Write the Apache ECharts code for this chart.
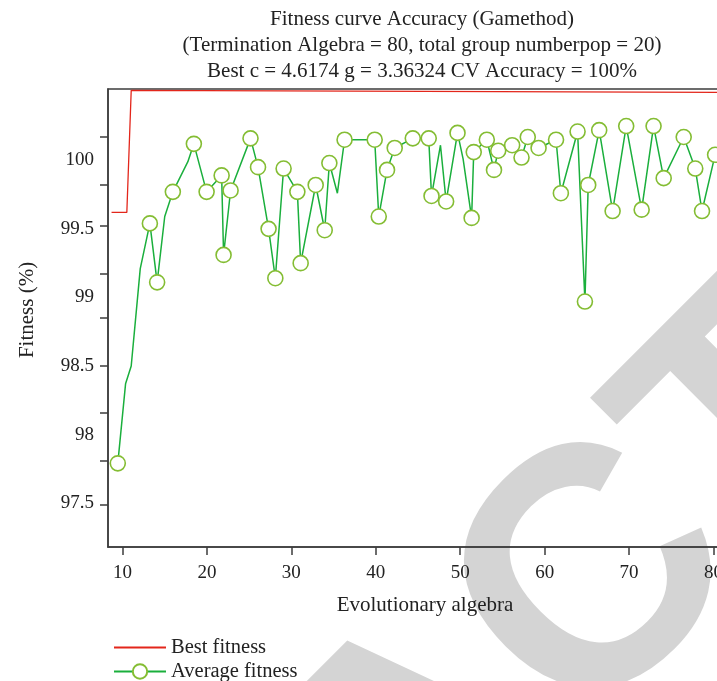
<!DOCTYPE html>
<html>
<head>
<meta charset="utf-8">
<script src="https://cdn.jsdelivr.net/npm/echarts@6/dist/echarts.min.js"></script>
<style>html,body{margin:0;padding:0;background:#fff;}#c{width:717px;height:681px;}</style>
</head>
<body>
<div id="c"></div>
<script>
// ---- data ----
const titleLines = [
  'Fitness curve Accuracy (Gamethod)',
  '(Termination Algebra = 80, total group numberpop = 20)',
  'Best c = 4.6174 g = 3.36324 CV Accuracy = 100%'
];
const xTicks = [10, 20, 30, 40, 50, 60, 70, 80];
const yTicks = [97.5, 98, 98.5, 99, 99.5, 100];
// tick marks on the y axis as drawn in the reference (they do not sit at the labels)
const yTickMarks = [97.49, 97.81, 98.16, 98.5, 98.85, 99.17, 99.52, 99.82, 100.17];
const seriesNames = ['Best fitness', 'Average fitness'];
const watermark = 'RETRACTED';

const bestX = [8.70, 10.51, 11.03, 81.4];
const bestY = [99.62, 99.62, 100.51, 100.495];

const avgX = [9.44,10.36,11.03,12.1,13.24,14.1,15.0,15.96,17.74,18.45,19.96,21.74,21.97,22.8,25.16,26.05,27.3,28.1,29.08,30.71,31.1,32.88,33.95,34.5,35.45,36.3,39.87,40.35,41.33,42.24,44.38,46.27,46.6,47.66,48.33,49.68,50.34,51.35,51.6,53.15,54.0,54.5,56.15,57.26,58.0,59.28,61.35,61.92,63.9,64.77,65.16,66.46,68.05,69.66,71.49,72.9,74.1,76.47,77.84,78.64,80.19];
const avgY = [97.79,98.37,98.5,99.21,99.54,99.11,99.59,99.77,99.99,100.12,99.77,99.89,99.31,99.78,100.16,99.95,99.5,99.14,99.94,99.77,99.25,99.82,99.49,99.98,99.76,100.15,100.15,99.59,99.93,100.09,100.16,100.16,99.74,100.11,99.7,100.2,100.01,99.58,100.06,100.15,99.93,100.07,100.11,100.02,100.17,100.09,100.15,99.76,100.21,98.97,99.82,100.22,99.63,100.25,99.64,100.25,99.87,100.17,99.94,99.63,100.04];
// 1 = a circle marker is drawn at this point, 0 = plain line vertex
const avgMarked = [1,0,0,0,1,1,0,1,0,1,1,1,1,1,1,1,1,1,1,1,1,1,1,1,0,1,1,1,1,1,1,1,1,0,1,1,0,1,1,1,1,1,1,1,1,1,1,1,1,1,1,1,1,1,1,1,1,1,1,1,1];

const xMin = 8.28, xMax = 81.48;
const yMin = 97.18, yMax = 100.52;

// ---- chart ----
const FONT = '"Liberation Serif", "DejaVu Serif", serif';
const RED = '#e3261b', GREEN = '#1aaf3c', MARK = '#84bd33', AX = '#3c3c3c', TXT = '#222';

const bestData = bestX.map((x, i) => [x, bestY[i]]);
const avgData = avgX.map((x, i) => avgMarked[i]
  ? { value: [x, avgY[i]] }
  : { value: [x, avgY[i]], symbol: 'none', symbolSize: 0 });

const chart = echarts.init(document.getElementById('c'), null, { renderer: 'canvas' });
chart.setOption({
  animation: false,
  backgroundColor: '#fff',
  title: {
    text: titleLines.join('\n'),
    left: 417, top: 1, textAlign: 'center',
    textStyle: { fontFamily: FONT, fontSize: 21, fontWeight: 'normal', color: TXT, lineHeight: 26 }
  },
  graphic: [{
    type: 'text', z: -10, silent: true,
    x: 426, y: 760, rotation: Math.PI / 4,
    style: { text: watermark, fontSize: 340, fontWeight: 'bold', fontFamily: '"Liberation Sans", Arial, sans-serif',
      fill: '#d4d4d4', align: 'center', verticalAlign: 'middle' }
  }],
  grid: { left: 108, right: -9, top: 89, bottom: 134, show: true, borderColor: AX, borderWidth: 1.5,
    backgroundColor: 'transparent', outerBoundsMode: 'none', containLabel: false },
  legend: {
    orient: 'vertical', left: 108, top: 632, height: 60, itemWidth: 52, itemHeight: 18, itemGap: 3,
    textStyle: { fontFamily: FONT, fontSize: 20.5, color: TXT, lineHeight: 18 },
    data: [
      { name: seriesNames[0], itemStyle: { color: 'rgba(0,0,0,0)', borderWidth: 0 } },
      { name: seriesNames[1] }
    ]
  },
  xAxis: {
    type: 'value', min: xMin, max: xMax,
    name: 'Evolutionary algebra', nameLocation: 'middle', nameGap: 48,
    nameTextStyle: { fontFamily: FONT, fontSize: 21, color: TXT, padding: [0, 0, 0, 16] },
    axisLine: { show: true, lineStyle: { color: AX, width: 1.5 } },
    axisTick: { show: true, inside: false, length: 8, lineStyle: { color: AX, width: 1.5 }, customValues: xTicks },
    axisLabel: { fontFamily: FONT, fontSize: 19, color: TXT, margin: 17, customValues: xTicks },
    splitLine: { show: false }
  },
  yAxis: {
    type: 'value', min: yMin, max: yMax,
    name: 'Fitness (%)', nameLocation: 'middle', nameGap: 70,
    nameTextStyle: { fontFamily: FONT, fontSize: 21, color: TXT, padding: [0, 0, 0, 16] },
    axisLine: { show: true, lineStyle: { color: AX, width: 1.5 } },
    axisTick: { show: true, inside: false, length: 8, lineStyle: { color: AX, width: 1.5 }, customValues: yTickMarks },
    axisLabel: { fontFamily: FONT, fontSize: 19, color: TXT, margin: 14, customValues: yTicks },
    splitLine: { show: false }
  },
  series: [
    { name: seriesNames[0], type: 'line', data: bestData, symbol: 'none', showSymbol: false, z: 3,
      lineStyle: { color: RED, width: 1.3 }, itemStyle: { color: RED } },
    { name: seriesNames[1], type: 'line', data: avgData, symbol: 'circle', symbolSize: 15, showSymbol: true, z: 4,
      lineStyle: { color: GREEN, width: 1.5 },
      itemStyle: { color: '#fff', borderColor: MARK, borderWidth: 1.6 } }
  ]
});
</script>
</body>
</html>
